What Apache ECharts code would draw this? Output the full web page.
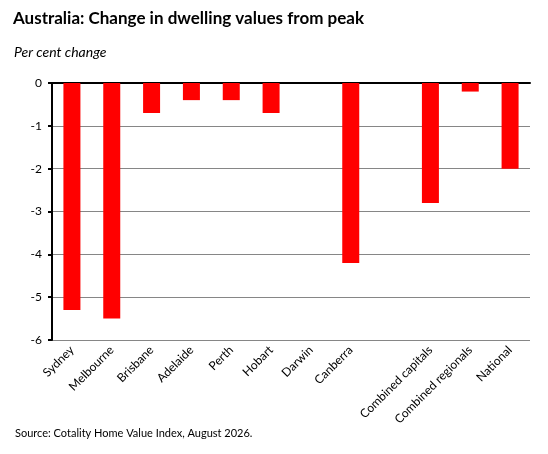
<!DOCTYPE html>
<html>
<head>
<meta charset="utf-8">
<script src="https://cdn.jsdelivr.net/npm/echarts@6/dist/echarts.min.js"></script>
<style>
  html, body { margin: 0; padding: 0; background: #fff; }
  #chart { width: 548px; height: 454px; }
</style>
</head>
<body>
<div id="chart"></div>
<script>
// categories (the blank one is the gap before the combined series)
var cities = ['Sydney', 'Melbourne', 'Brisbane', 'Adelaide', 'Perth', 'Hobart', 'Darwin',
  'Canberra', '', 'Combined capitals', 'Combined regionals', 'National'];
// per cent change from peak
var changeFromPeak = [-5.3, -5.5, -0.7, -0.4, -0.4, -0.7, 0, -4.2, null, -2.8, -0.2, -2.0];
var yMin = -6, yMax = 0, yStep = 1;

(function(){
  var font = 'Lato, "Open Sans", sans-serif';
  var chart = echarts.init(document.getElementById('chart'));

  var option = {
    animation: false,
    textStyle: { fontFamily: font },
    title: [
      {
        text: 'Australia: Change in dwelling values from peak',
        left: 8, top: 5,
        textStyle: { fontFamily: font, fontSize: 17, fontWeight: 'bold', color: '#000' }
      },
      {
        text: 'Per cent change',
        left: 9, top: 40,
        textStyle: { fontFamily: font, fontSize: 14, fontStyle: 'italic', fontWeight: 'normal', color: '#000' }
      },
      {
        text: 'Source: Cotality Home Value Index, August 2026.',
        left: 10, top: 423,
        textStyle: { fontFamily: font, fontSize: 11, fontWeight: 'normal', color: '#000' }
      }
    ],
    grid: { left: 52, right: 18, top: 83, bottom: 114 },
    xAxis: [
      {
        // axis line drawn along zero at the top
        type: 'category',
        data: cities,
        position: 'top',
        axisLine: { lineStyle: { color: '#000', width: 2 } },
        axisTick: { inside: true, length: 3, lineStyle: { color: '#000', width: 2 } },
        axisLabel: { show: false },
        splitLine: { show: false }
      },
      {
        // labels under the plot
        type: 'category',
        data: cities,
        position: 'bottom',
        axisLine: { show: false },
        axisTick: { show: false },
        axisLabel: { rotate: 45, margin: 8, fontSize: 12, color: '#000', interval: 0, fontFamily: font },
        splitLine: { show: false }
      }
    ],
    yAxis: {
      type: 'value',
      min: yMin, max: yMax, interval: yStep,
      axisLine: { show: true, lineStyle: { color: '#000', width: 2 } },
      axisTick: { show: true, length: 4, lineStyle: { color: '#000', width: 2 } },
      axisLabel: { fontSize: 12, color: '#000', margin: 10, fontFamily: font },
      splitLine: { lineStyle: { color: '#868686', width: 1 } }
    },
    series: [
      {
        type: 'bar',
        xAxisIndex: 0,
        data: changeFromPeak,
        barWidth: 17,
        itemStyle: { color: '#ff0000' }
      }
    ]
  };
  chart.setOption(option);
}());
</script>
</body>
</html>
